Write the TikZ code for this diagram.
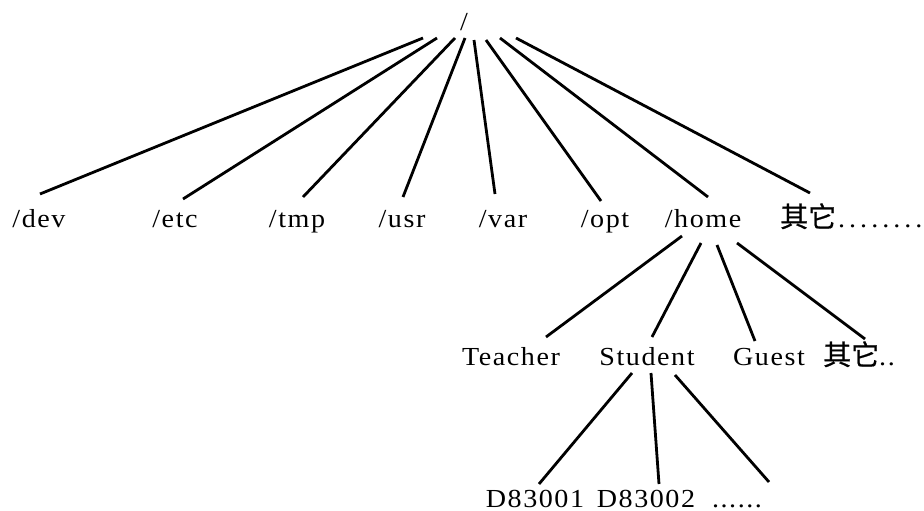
\documentclass[tikz,border=0pt]{standalone}
\usepackage{fontspec}
\setmainfont{Liberation Serif}[FakeStretch=1.08,LetterSpace=6]
\newfontfamily\cjk{Noto Sans CJK SC}[FakeBold=0.6]
\newcommand{\zh}[1]{{\cjk\fontsize{28}{32}\selectfont #1}}
\newcommand{\sdot}{.\kern4pt}
\begin{document}
\begin{tikzpicture}[x=1pt,y=-1pt,
  lbl/.style={inner sep=0pt, anchor=base, font=\fontsize{26}{31}\selectfont},
  lblw/.style={lbl, anchor=base west},
  link/.style={line width=2.8pt}]
\useasboundingbox (0,0) rectangle (924,511);

% root
\node[lbl] (root) at (464,31) {/};

% first level
\node[lbl] (dev)  at (39,227)  {/dev};
\node[lbl] (etc)  at (175,227) {/etc};
\node[lbl] (tmp)  at (297,227) {/tmp};
\node[lbl] (usr)  at (402,227) {/usr};
\node[lbl] (var)  at (503,227) {/var};
\node[lbl] (opt)  at (605,227) {/opt};
\node[lbl] (home) at (703,227) {/home};
\node[lblw] (other) at (780,227) {\zh{其它}\kern2pt\sdot\sdot\sdot\sdot\sdot\sdot\sdot.};

% second level
\node[lbl] (teacher) at (511,365) {Teacher};
\node[lbl] (student) at (647,365) {Student};
\node[lbl] (guest)   at (769,365) {Guest};
\node[lblw] (hother) at (823,365) {\zh{其它}..};

% third level
\node[lbl] (d1) at (535,507) {D83001};
\node[lbl] (d2) at (646,507) {D83002};
\node[lbl] (dmore) at (737,507) {......};

% connector ends
\coordinate (r1) at (423,38);  \coordinate (c1) at (40,194);
\coordinate (r2) at (437,38);  \coordinate (c2) at (183,199);
\coordinate (r3) at (455,38);  \coordinate (c3) at (303,197);
\coordinate (r4) at (465,38);  \coordinate (c4) at (403,197);
\coordinate (r5) at (474,40);  \coordinate (c5) at (495,194);
\coordinate (r6) at (486,40);  \coordinate (c6) at (601,201);
\coordinate (r7) at (500,38);  \coordinate (c7) at (708,197);
\coordinate (r8) at (516,38);  \coordinate (c8) at (810,193);

\coordinate (h1) at (682,236); \coordinate (t1) at (546,337);
\coordinate (h2) at (701,243); \coordinate (t2) at (652,337);
\coordinate (h3) at (717,245); \coordinate (t3) at (755,341);
\coordinate (h4) at (737,243); \coordinate (t4) at (865,339);

\coordinate (s1) at (632,373); \coordinate (u1) at (539,484);
\coordinate (s2) at (651,373); \coordinate (u2) at (659,484);
\coordinate (s3) at (675,375); \coordinate (u3) at (769,482);

\foreach \i in {1,...,8} \draw[link] (r\i) -- (c\i);
\foreach \i in {1,...,4} \draw[link] (h\i) -- (t\i);
\foreach \i in {1,...,3} \draw[link] (s\i) -- (u\i);
\end{tikzpicture}
\end{document}
